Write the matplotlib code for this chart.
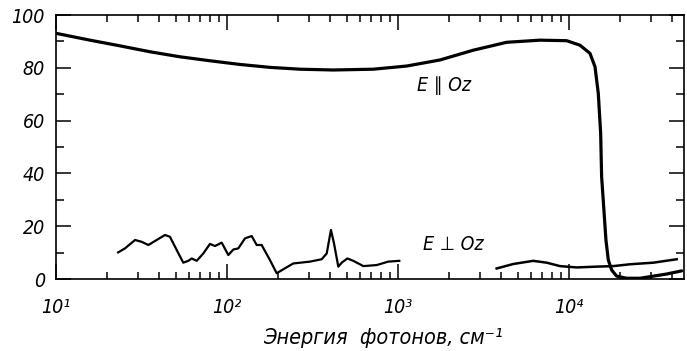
import matplotlib
matplotlib.use("Agg")
import matplotlib.pyplot as plt
from matplotlib.ticker import LogLocator, MultipleLocator, FixedLocator, FixedFormatter, NullFormatter

# E || Oz
par_x = [10, 15.8, 22.6, 35.5, 53.1, 79.5, 119, 178, 267, 418, 717, 1124, 1761,
         2756, 4322, 6770, 9690, 11590, 13270, 14200, 14840, 15320, 15520, 15860,
         16450, 16980, 17770, 19000, 21740, 26000, 31140, 37240, 45600]
par_y = [93.1, 90.5, 88.6, 86.1, 84.2, 82.7, 81.3, 80.2, 79.5, 79.2, 79.5, 80.7, 83,
         86.7, 89.7, 90.5, 90.3, 88.6, 85.5, 80.4, 70.3, 55.2, 38.8, 29.9,
         14.8, 7.2, 3.4, 1.1, 0.3, 0.3, 1.1, 1.9, 3.1]

# E _|_ Oz, far infrared part
perp1_x = [23.1, 25.3, 29.0, 31.7, 34.7, 38.8, 43.4, 46.4, 50.8, 55.5, 59.4, 62.2,
           66.5, 72.7, 79.5, 85.1, 93.1, 101.8, 109, 116.4, 127.4, 139.4, 149.2,
           159.5, 178.3, 195.3, 213.5, 244, 305.6, 358, 383, 405.5, 422.5, 447.7,
           468.8, 505.5, 548, 627, 750.6, 877, 1018]
perp1_y = [10.1, 11.6, 14.8, 14.1, 12.9, 14.8, 16.7, 16, 11, 6.2, 6.9, 7.8,
           6.9, 9.7, 13.3, 12.5, 13.8, 9.1, 11.2, 11.6, 15.4, 16.3, 12.9,
           12.9, 7.2, 2.2, 3.7, 5.9, 6.6, 7.5, 9.7, 18.6, 13.5, 4.7,
           6.2, 7.8, 6.9, 4.9, 5.3, 6.6, 6.9]

# E _|_ Oz, near infrared part
perp2_x = [3776, 4723, 6180, 7410, 8860, 11090, 14520, 18160, 22750, 31140, 42650]
perp2_y = [4.0, 5.7, 6.9, 6.2, 4.9, 4.4, 4.7, 4.9, 5.6, 6.2, 7.5]

y_ticks = [0, 20, 40, 60, 80, 100]
x_ticks = [10, 100, 1000, 10000]
x_labels = ["10¹", "10²", "10³", "10⁴"]

font = dict(family="DejaVu Sans", style="italic", stretch="condensed")

fig = plt.figure(figsize=(6.87, 3.51), dpi=100)
ax = fig.add_axes([0.0815, 0.205, 0.914, 0.752])

ax.plot(par_x, par_y, color="black", lw=2.3, solid_capstyle="round")
ax.plot(perp1_x, perp1_y, color="black", lw=1.6)
ax.plot(perp2_x, perp2_y, color="black", lw=1.8)

ax.set_xscale("log")
ax.set_xlim(10, 4.7e4)
ax.set_ylim(0, 100)

ax.xaxis.set_major_locator(FixedLocator(x_ticks))
ax.xaxis.set_major_formatter(FixedFormatter(x_labels))
ax.xaxis.set_minor_locator(LogLocator(base=10, subs=range(2, 10)))
ax.xaxis.set_minor_formatter(NullFormatter())
ax.yaxis.set_major_locator(FixedLocator(y_ticks))
ax.yaxis.set_minor_locator(MultipleLocator(10))

ax.tick_params(which="both", direction="in", top=True, right=True, width=1.1)
ax.tick_params(axis="y", which="major", length=11, pad=8)
ax.tick_params(axis="y", which="minor", length=6)
ax.tick_params(axis="x", which="major", length=11, pad=14)
ax.tick_params(axis="x", which="minor", length=5)

for lab in ax.get_xticklabels() + ax.get_yticklabels():
    lab.set_fontfamily("DejaVu Sans")
    lab.set_fontstyle("italic")
    lab.set_fontstretch("condensed")
    lab.set_fontsize(14)

for sp in ax.spines.values():
    sp.set_linewidth(1.2)

ax.text(1291, 73.5, "E ∥ Oz", fontsize=14, va="center", **font)
ax.text(1400, 12.9, "E ⊥ Oz", fontsize=14, va="center", **font)

fig.text(383 / 687, 1 - 338 / 351, "Энергия  фотонов, см⁻¹", fontsize=15.5,
         ha="center", va="center", **font)

fig.savefig("out.png", dpi=100)
